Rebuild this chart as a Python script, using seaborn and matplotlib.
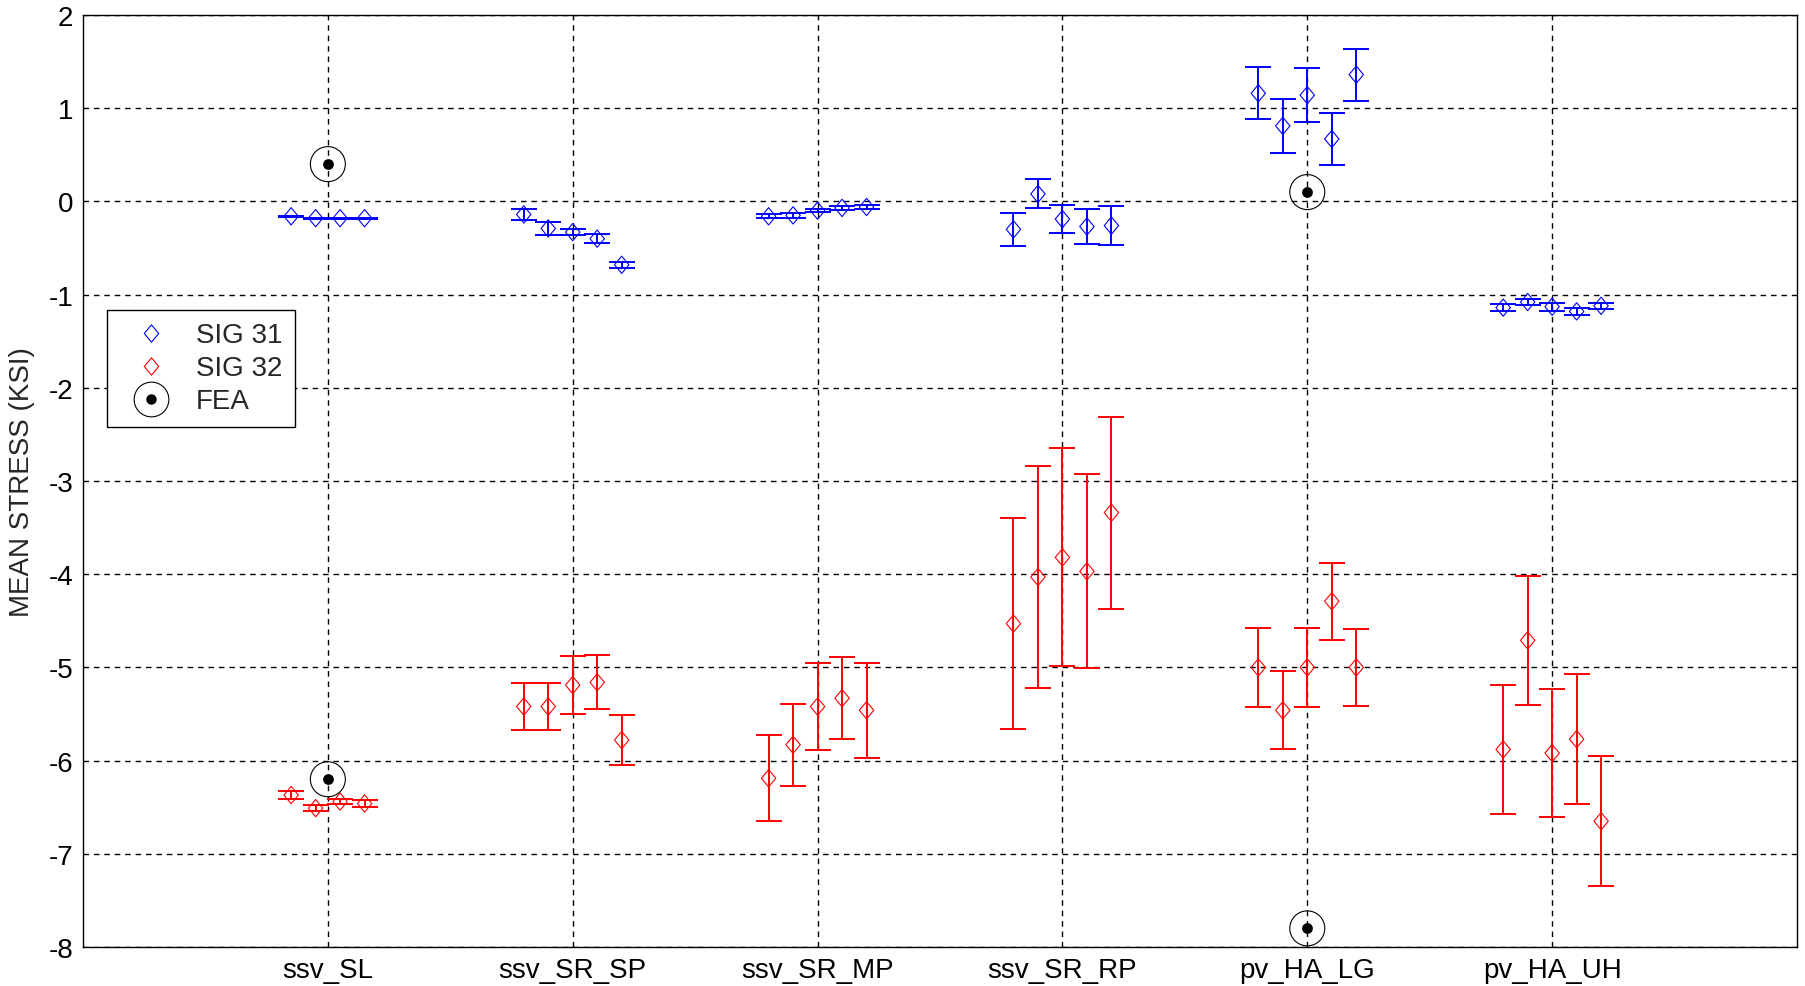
import numpy as np
import pandas as pd
import matplotlib
matplotlib.use("Agg")
import matplotlib.pyplot as plt
from matplotlib.lines import Line2D
from matplotlib.path import Path
from matplotlib.markers import MarkerStyle
import seaborn as sns

# ---- data -------------------------------------------------------------
categories = ["ssv_SL", "ssv_SR_SP", "ssv_SR_MP", "ssv_SR_RP", "pv_HA_LG", "pv_HA_UH"]

# SIG 31 gauge: mean stress (ksi) and half-width of the error bar, per test
sig31_mean = [
    [-0.16, -0.18, -0.18, -0.18],
    [-0.14, -0.29, -0.33, -0.40, -0.68],
    [-0.16, -0.15, -0.10, -0.07, -0.06],
    [-0.30, 0.08, -0.19, -0.27, -0.26],
    [1.16, 0.81, 1.14, 0.67, 1.36],
    [-1.14, -1.08, -1.13, -1.18, -1.12],
]
sig31_err = [
    [0.005, 0.005, 0.005, 0.005],
    [0.055, 0.07, 0.03, 0.05, 0.035],
    [0.02, 0.025, 0.015, 0.02, 0.02],
    [0.18, 0.155, 0.15, 0.19, 0.21],
    [0.28, 0.29, 0.29, 0.28, 0.28],
    [0.04, 0.035, 0.045, 0.035, 0.03],
]

# SIG 32 gauge
sig32_mean = [
    [-6.37, -6.51, -6.44, -6.46],
    [-5.42, -5.42, -5.19, -5.16, -5.78],
    [-6.19, -5.83, -5.42, -5.33, -5.46],
    [-4.53, -4.03, -3.82, -3.97, -3.34],
    [-5.00, -5.46, -5.00, -4.29, -5.00],
    [-5.88, -4.71, -5.92, -5.77, -6.65],
]
sig32_err = [
    [0.045, 0.03, 0.03, 0.04],
    [0.25, 0.25, 0.31, 0.29, 0.27],
    [0.46, 0.44, 0.47, 0.44, 0.51],
    [1.13, 1.19, 1.17, 1.04, 1.03],
    [0.42, 0.42, 0.42, 0.415, 0.41],
    [0.695, 0.695, 0.69, 0.695, 0.695],
]

# finite element predictions
fea_category = ["ssv_SL", "ssv_SL", "pv_HA_LG", "pv_HA_LG"]
fea_value = [0.4, -6.2, 0.1, -7.8]

yticks = list(range(-8, 3))


def gauge_frame(means, errs):
    rows = []
    for i, (cat, m, e) in enumerate(zip(categories, means, errs)):
        n = len(m)
        offsets = (np.arange(n) - (n - 1) / 2) * 0.1
        for off, mv, ev in zip(offsets, m, e):
            rows.append({"category": cat, "x": i + 1 + off, "mean": mv, "err": ev})
    return pd.DataFrame(rows)


df31 = gauge_frame(sig31_mean, sig31_err)
df32 = gauge_frame(sig32_mean, sig32_err)
df_fea = pd.DataFrame({
    "x": [categories.index(c) + 1 for c in fea_category],
    "value": fea_value,
})

# ---- style ------------------------------------------------------------
sns.set_style("white")
plt.rcParams["font.family"] = ["Liberation Sans", "DejaVu Sans"]

diamond = MarkerStyle(Path([(0, 1.2), (1, 0), (0, -1.2), (-1, 0), (0, 1.2)],
                           [Path.MOVETO, Path.LINETO, Path.LINETO, Path.LINETO, Path.CLOSEPOLY]))

W, H = 1806, 987
fig = plt.figure(figsize=(W / 100, H / 100), dpi=100)
ax = fig.add_axes([83 / W, 1 - 948 / H, 1714 / W, 932 / H])

for df, col in [(df31, "#0000FF"), (df32, "#FF0000")]:
    ax.errorbar(df["x"], df["mean"], yerr=df["err"], fmt="none", ecolor=col,
                elinewidth=1.4, capsize=9.7, capthick=1.4, zorder=3)
    sns.scatterplot(data=df, x="x", y="mean", marker=diamond, s=155,
                    color=col, facecolor="none", edgecolor=col, linewidth=0.8,
                    ax=ax, zorder=4, legend=False)

sns.scatterplot(data=df_fea, x="x", y="value", marker="o", s=635, color="black",
                facecolor="none", edgecolor="black", linewidth=0.8, ax=ax,
                zorder=5, legend=False)
sns.scatterplot(data=df_fea, x="x", y="value", marker="o", s=60, color="black",
                edgecolor="black", linewidth=0, ax=ax, zorder=6, legend=False)

ax.set_xlim(0, 7)
ax.set_ylim(-8, 2)
ax.set_xticks(range(1, len(categories) + 1))
ax.set_xticklabels(categories)
ax.set_yticks(yticks)
ax.set_yticklabels([str(t) for t in yticks])
ax.set_xlabel("")
ax.set_ylabel("MEAN STRESS (KSI)", fontsize=20, labelpad=10)

ax.grid(True, color="black", linestyle=(0, (4, 3.5)), linewidth=1.0)
ax.set_axisbelow(True)
ax.tick_params(axis="both", direction="in", length=5, labelsize=20, pad=7,
               color="black", labelcolor="black")
for s in ax.spines.values():
    s.set_color("black")
    s.set_linewidth(1.0)
    s.set_visible(True)

h31 = Line2D([], [], ls="none", marker=diamond, ms=12.5, mfc="none", mec="#0000FF", mew=0.8)
h32 = Line2D([], [], ls="none", marker=diamond, ms=12.5, mfc="none", mec="#FF0000", mew=0.8)
hfea = (Line2D([], [], ls="none", marker="o", ms=25, mfc="none", mec="black", mew=0.8),
        Line2D([], [], ls="none", marker="o", ms=7.5, mfc="black", mec="black", mew=0))
leg = ax.legend([h31, h32, hfea], ["SIG 31", "SIG 32", "FEA"], loc="upper left",
                bbox_to_anchor=(0.014, 0.6835), borderaxespad=0, fontsize=20,
                frameon=True, fancybox=False, edgecolor="black", framealpha=1,
                labelspacing=0.25, handlelength=2.3, handletextpad=0.45,
                borderpad=0.45)
leg.get_frame().set_linewidth(1.0)

fig.savefig("out.png", dpi=100, facecolor="white")
